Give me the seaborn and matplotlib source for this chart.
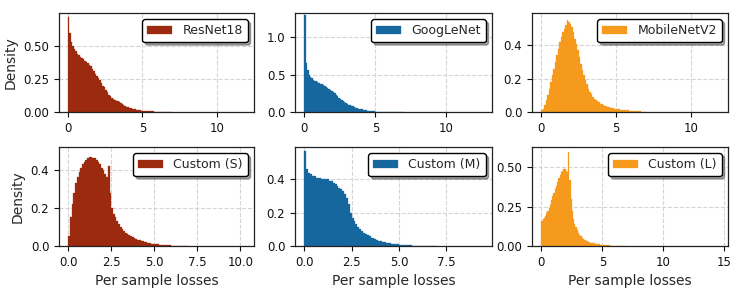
import numpy as np
import pandas as pd
import matplotlib
matplotlib.use("Agg")
import matplotlib.pyplot as plt
import seaborn as sns

# ---- data: per-bin density estimates (bin width 0.1, from 0.0 to 7.0) ----
bin_width = 0.1
n_bins = 70

resnet18 = [0.72, 0.60, 0.53, 0.50, 0.48, 0.46, 0.44, 0.43, 0.42, 0.41,
            0.40, 0.39, 0.38, 0.37, 0.36, 0.35, 0.33, 0.31, 0.29, 0.27,
            0.26, 0.24, 0.22, 0.20, 0.19, 0.17, 0.15, 0.13, 0.12, 0.11,
            0.10, 0.09, 0.085, 0.08, 0.075, 0.07, 0.06, 0.05, 0.045, 0.04,
            0.035, 0.03, 0.027, 0.025, 0.022, 0.02, 0.017, 0.015, 0.013, 0.011,
            0.010, 0.009, 0.008, 0.007, 0.006, 0.005, 0.004, 0.004, 0.003, 0.003,
            0.002, 0.002, 0.002, 0.001, 0.001, 0.001, 0.001, 0.0, 0.0, 0.0]

googlenet = [1.30, 0.66, 0.56, 0.50, 0.47, 0.45, 0.43, 0.42, 0.41, 0.40,
             0.39, 0.38, 0.37, 0.36, 0.35, 0.34, 0.32, 0.31, 0.30, 0.28,
             0.27, 0.25, 0.23, 0.21, 0.19, 0.18, 0.16, 0.15, 0.13, 0.12,
             0.11, 0.10, 0.09, 0.08, 0.075, 0.068, 0.06, 0.052, 0.045, 0.04,
             0.035, 0.03, 0.026, 0.022, 0.019, 0.016, 0.013, 0.011, 0.009, 0.007,
             0.006, 0.005, 0.004, 0.003, 0.003, 0.002, 0.002, 0.001, 0.001, 0.001,
             0.0, 0.0, 0.0, 0.0, 0.0, 0.0, 0.0, 0.0, 0.0, 0.0]

mobilenetv2 = [0.01, 0.02, 0.04, 0.07, 0.10, 0.14, 0.18, 0.22, 0.26, 0.30,
               0.34, 0.38, 0.42, 0.45, 0.48, 0.50, 0.52, 0.55, 0.54, 0.53,
               0.51, 0.48, 0.44, 0.41, 0.37, 0.33, 0.29, 0.25, 0.22, 0.19,
               0.17, 0.14, 0.12, 0.11, 0.09, 0.08, 0.07, 0.063, 0.057, 0.05,
               0.046, 0.042, 0.038, 0.035, 0.032, 0.029, 0.026, 0.024, 0.022, 0.020,
               0.018, 0.017, 0.016, 0.015, 0.014, 0.013, 0.012, 0.011, 0.010, 0.009,
               0.008, 0.007, 0.006, 0.006, 0.005, 0.004, 0.004, 0.003, 0.003, 0.002]

custom_s = [0.05, 0.15, 0.22, 0.28, 0.33, 0.36, 0.39, 0.41, 0.43, 0.44,
            0.45, 0.46, 0.47, 0.47, 0.46, 0.46, 0.45, 0.44, 0.43, 0.41,
            0.40, 0.38, 0.36, 0.42, 0.28, 0.20, 0.17, 0.15, 0.13, 0.115,
            0.10, 0.09, 0.08, 0.07, 0.065, 0.058, 0.052, 0.047, 0.042, 0.037,
            0.033, 0.03, 0.027, 0.024, 0.021, 0.019, 0.017, 0.015, 0.013, 0.011,
            0.010, 0.009, 0.008, 0.007, 0.006, 0.005, 0.004, 0.004, 0.003, 0.003,
            0.002, 0.002, 0.001, 0.001, 0.001, 0.0, 0.0, 0.0, 0.0, 0.0]

custom_m = [0.57, 0.46, 0.44, 0.43, 0.42, 0.42, 0.41, 0.41, 0.41, 0.40,
            0.40, 0.40, 0.40, 0.39, 0.39, 0.38, 0.37, 0.36, 0.35, 0.34,
            0.33, 0.31, 0.29, 0.25, 0.20, 0.17, 0.15, 0.13, 0.115, 0.10,
            0.09, 0.08, 0.072, 0.064, 0.057, 0.05, 0.045, 0.04, 0.036, 0.032,
            0.029, 0.026, 0.023, 0.02, 0.018, 0.016, 0.014, 0.012, 0.011, 0.010,
            0.008, 0.007, 0.006, 0.005, 0.004, 0.003, 0.003, 0.002, 0.002, 0.001,
            0.001, 0.001, 0.0, 0.0, 0.0, 0.0, 0.0, 0.0, 0.0, 0.0]

custom_l = [0.16, 0.17, 0.18, 0.19, 0.21, 0.22, 0.24, 0.26, 0.29, 0.32,
            0.34, 0.36, 0.38, 0.41, 0.43, 0.45, 0.47, 0.48, 0.49, 0.49,
            0.48, 0.47, 0.60, 0.42, 0.30, 0.22, 0.17, 0.14, 0.12, 0.10,
            0.085, 0.072, 0.062, 0.053, 0.046, 0.04, 0.035, 0.031, 0.028, 0.025,
            0.022, 0.02, 0.018, 0.016, 0.014, 0.012, 0.011, 0.010, 0.009, 0.008,
            0.007, 0.006, 0.006, 0.005, 0.004, 0.004, 0.003, 0.003, 0.002, 0.002,
            0.002, 0.001, 0.001, 0.001, 0.0, 0.0, 0.0, 0.0, 0.0, 0.0]

labels = ["ResNet18", "GoogLeNet", "MobileNetV2", "Custom (S)", "Custom (M)", "Custom (L)"]
series = [resnet18, googlenet, mobilenetv2, custom_s, custom_m, custom_l]
colors = ["#9c2a0e", "#17679f", "#f59a1c", "#9c2a0e", "#17679f", "#f59a1c"]

xlims = [(-0.6, 12.5), (-0.65, 13.2), (-0.62, 12.5), (-0.54, 10.8), (-0.49, 9.9), (-0.76, 15.3)]
ylims = [(0, 0.752), (0, 1.32), (0, 0.593), (0, 0.52), (0, 0.594), (0, 0.63)]
xticks = [[0, 5, 10], [0, 5, 10], [0, 5, 10], [0, 2.5, 5, 7.5, 10], [0, 2.5, 5, 7.5], [0, 5, 10, 15]]
yticks = [[0, 0.25, 0.5], [0, 0.5, 1.0], [0, 0.2, 0.4], [0, 0.2, 0.4], [0, 0.2, 0.4], [0, 0.25, 0.5]]

# ---- style ----
sns.set_style("ticks", {"axes.grid": True, "grid.linestyle": "--", "grid.color": "#d4d4d4",
                        "axes.edgecolor": "#222222"})
plt.rcParams["font.family"] = ["DejaVu Sans"]
plt.rcParams["xtick.labelsize"] = 8.5
plt.rcParams["ytick.labelsize"] = 8.5
plt.rcParams["axes.labelsize"] = 10

fig = plt.figure(figsize=(7.47, 2.99), dpi=100)
lefts = [0.0790, 0.3949, 0.7122]
widths = [0.261, 0.2637, 0.2624]
bottoms = [0.6254, 0.1773]
height = 0.331

centers = (np.arange(n_bins) + 0.5) * bin_width

for i, (lab, vals, col) in enumerate(zip(labels, series, colors)):
    r, c = divmod(i, 3)
    ax = fig.add_axes([lefts[c], bottoms[r], widths[c], height])
    df = pd.DataFrame({"loss": centers, "density": vals})
    sns.histplot(data=df, x="loss", weights="density", binwidth=bin_width,
                 binrange=(0, n_bins * bin_width), stat="count", color=col,
                 alpha=1.0, edgecolor=col, linewidth=0.2, label=lab, ax=ax)
    ax.set_xlim(*xlims[i])
    ax.set_ylim(*ylims[i])
    ax.set_xticks(xticks[i])
    ax.set_yticks(yticks[i])
    ax.grid(True, linestyle="--", color="#d4d4d4", linewidth=0.8)
    ax.set_axisbelow(True)
    for s in ax.spines.values():
        s.set_visible(True)
        s.set_linewidth(0.9)
        s.set_color("#222222")
    ax.tick_params(direction="out", length=3.5, width=0.8, colors="#111111")
    ax.set_ylabel("Density" if c == 0 else "")
    ax.set_xlabel("Per sample losses" if r == 1 else "")
    ax.legend(loc="upper right", shadow=True, fancybox=True, framealpha=1,
              edgecolor="black", fontsize=9)

fig.savefig("out.png", dpi=100)
